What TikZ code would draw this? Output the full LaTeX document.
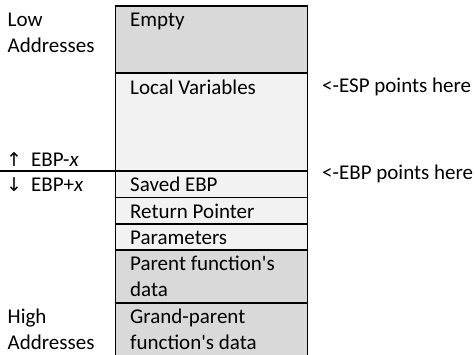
\documentclass[tikz,border=0pt]{standalone}
\usepackage{fontspec}
\setmainfont{Carlito}[Ligatures=TeXOff]
\newfontfamily\arrowfont{DejaVu Sans}
\definecolor{cellDark}{HTML}{D9D9D9}
\definecolor{cellLight}{HTML}{F2F2F2}
\begin{document}
\begin{tikzpicture}[x=1pt,y=-1pt,
  txt/.style={anchor=base west,inner sep=0pt,font=\fontsize{21}{26}\selectfont},
  rule/.style={line width=1.2pt,black}]
\useasboundingbox (0,0) rectangle (475,355);
% cell fills
\fill[cellDark]  (115.7,6)   rectangle (307.3,73);
\fill[cellLight] (115.7,73)  rectangle (307.3,250);
\fill[cellDark]  (115.7,250) rectangle (307.3,355);
% coordinates
\coordinate (tl) at (115.7,6);
\coordinate (tr) at (307.3,6);
\coordinate (bl) at (115.7,355);
\coordinate (br) at (307.3,355);
\coordinate (e0) at (0,171);
% borders
\draw[rule] (bl) -- (tl) -- (tr) -- (br);
\foreach \yy in {73,197.5,224,250,303}
  \draw[rule] (115.7,\yy) -- (307.3,\yy);
\draw[rule] (e0) -- (307.3,171);
% cell texts
\node[txt] (empty) at (130,27) {Empty};
\node[txt] (locv) at (130,95) {Local Variables};
\node[txt] (sebp) at (130,192) {Saved EBP};
\node[txt] (rptr) at (130,218.5) {Return Pointer};
\node[txt] (parm) at (130,245) {Parameters};
\node[txt] (par1) at (130,271) {Parent function\char"0027 s};
\node[txt] (par2) at (130,297) {data};
\node[txt] (gp1) at (130,324) {Grand-parent};
\node[txt] (gp2) at (130,350) {function\char"0027 s data};
% left labels
\node[txt] (low1) at (7.5,27) {Low};
\node[txt] (low2) at (7.5,53) {Addresses};
\node[txt] (up) at (6,167) {\makebox[25pt][l]{\arrowfont\fontsize{19}{20}\selectfont ↑}EBP-\textit{x}};
\node[txt] (down) at (6,192) {\makebox[25pt][l]{\arrowfont\fontsize{19}{20}\selectfont ↓}EBP+\textit{x}};
\node[txt] (high1) at (7.5,324) {High};
\node[txt] (high2) at (7.5,350) {Addresses};
% right labels
\node[txt] (esp) at (322,93) {<-ESP points here};
\node[txt] (ebp) at (322,180) {<-EBP points here};
\end{tikzpicture}
\end{document}
